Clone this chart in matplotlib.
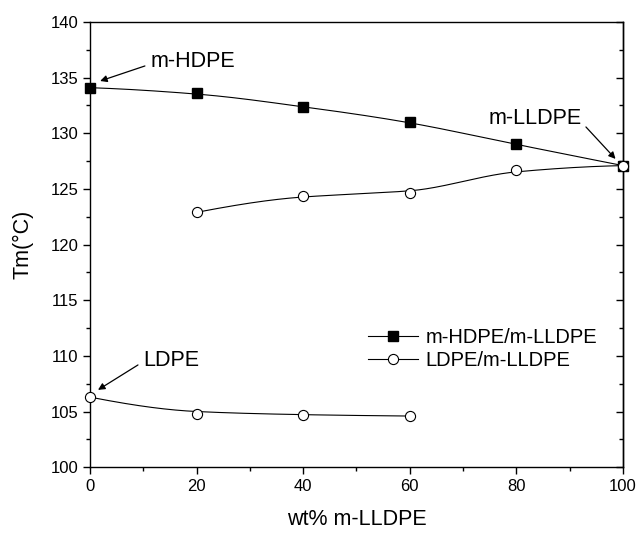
import numpy as np
import matplotlib
matplotlib.use("Agg")
import matplotlib.pyplot as plt
from matplotlib.ticker import MultipleLocator

plt.rcParams['font.family'] = ['Liberation Sans', 'DejaVu Sans']

hdpe_x = [0, 20, 40, 60, 80, 100]
hdpe_y = [134.1, 133.6, 132.4, 131.0, 129.0, 127.1]
ldpe_hi_x = [20, 40, 60, 80, 100]
ldpe_hi_y = [122.9, 124.4, 124.6, 126.7, 127.1]
ldpe_lo_x = [0, 20, 40, 60]
ldpe_lo_y = [106.3, 104.8, 104.7, 104.6]


def pchip(x, y, xs):
    x = np.asarray(x, float)
    y = np.asarray(y, float)
    h = np.diff(x)
    dl = np.diff(y) / h
    k = len(x)
    m = np.zeros(k)
    for i in range(1, k - 1):
        if dl[i - 1] * dl[i] <= 0:
            m[i] = 0
        else:
            w1 = 2 * h[i] + h[i - 1]
            w2 = h[i] + 2 * h[i - 1]
            m[i] = (w1 + w2) / (w1 / dl[i - 1] + w2 / dl[i])
    m[0] = ((2 * h[0] + h[1]) * dl[0] - h[0] * dl[1]) / (h[0] + h[1])
    if m[0] * dl[0] <= 0:
        m[0] = 0
    m[-1] = ((2 * h[-1] + h[-2]) * dl[-1] - h[-1] * dl[-2]) / (h[-1] + h[-2])
    if m[-1] * dl[-1] <= 0:
        m[-1] = 0
    ys = np.empty_like(xs)
    for j, xv in enumerate(xs):
        i = min(np.searchsorted(x, xv, side='right') - 1, k - 2)
        t = (xv - x[i]) / h[i]
        h00 = 2 * t ** 3 - 3 * t ** 2 + 1
        h10 = t ** 3 - 2 * t ** 2 + t
        h01 = -2 * t ** 3 + 3 * t ** 2
        h11 = t ** 3 - t ** 2
        ys[j] = h00 * y[i] + h10 * h[i] * m[i] + h01 * y[i + 1] + h11 * h[i] * m[i + 1]
    return ys


def bspline(x, y, n=400, deg=3):
    P = np.column_stack([x, y]).astype(float)
    k = len(P)
    d = min(deg, k - 1)
    inner = np.linspace(0, 1, k - d + 1)[1:-1]
    knots = np.concatenate([np.zeros(d + 1), inner, np.ones(d + 1)])
    out = []
    for t in np.linspace(0, 1, n):
        if t >= 1:
            out.append(P[-1])
            continue
        s = np.searchsorted(knots, t, side='right') - 1
        dpts = [P[j + s - d].copy() for j in range(d + 1)]
        for r in range(1, d + 1):
            for j in range(d, r - 1, -1):
                i = j + s - d
                a = (t - knots[i]) / (knots[i + d + 1 - r] - knots[i])
                dpts[j] = (1 - a) * dpts[j - 1] + a * dpts[j]
        out.append(dpts[d])
    out = np.array(out)
    return out[:, 0], out[:, 1]


def smooth(x, y):
    xs = np.linspace(x[0], x[-1], 300)
    bx, by = bspline(x, y)
    yb = np.interp(xs, bx, by)
    yp = pchip(x, y, xs)
    return xs, 0.5 * (yb + yp)


fig = plt.figure(figsize=(6.37, 5.34), dpi=100)
ax = fig.add_axes([0.1413, 0.125, 0.8367, 0.8338])

for xs_, ys_ in [(hdpe_x, hdpe_y), (ldpe_hi_x, ldpe_hi_y), (ldpe_lo_x, ldpe_lo_y)]:
    sx, sy = smooth(xs_, ys_)
    ax.plot(sx, sy, color='black', lw=0.8, zorder=2)

ax.plot(hdpe_x, hdpe_y, ls='none', marker='s', ms=6.5, mfc='black', mec='black', zorder=3, clip_on=False)
ax.plot(ldpe_hi_x, ldpe_hi_y, ls='none', marker='o', ms=7.3, mfc='white', mec='black', mew=0.8, zorder=3, clip_on=False)
ax.plot(ldpe_lo_x, ldpe_lo_y, ls='none', marker='o', ms=7.3, mfc='white', mec='black', mew=0.8, zorder=3, clip_on=False)

# legend proxies
ax.plot([], [], color='black', lw=0.8, marker='s', ms=6.5, mfc='black', label='m-HDPE/m-LLDPE')
ax.plot([], [], color='black', lw=0.8, marker='o', ms=7.3, mfc='white', mew=0.8, label='LDPE/m-LLDPE')
ax.legend(loc='center left', bbox_to_anchor=(0.5216, 0.2657), frameon=False, fontsize=14.5,
          handlelength=2.5, handletextpad=0.35, labelspacing=0.2, borderpad=0, borderaxespad=0)

ax.set_xlim(0, 100)
ax.set_ylim(100, 140)
ax.xaxis.set_major_locator(MultipleLocator(20))
ax.xaxis.set_minor_locator(MultipleLocator(10))
ax.yaxis.set_major_locator(MultipleLocator(5))
ax.yaxis.set_minor_locator(MultipleLocator(2.5))
ax.tick_params(axis='both', which='major', direction='out', length=5, width=1, labelsize=12)
ax.tick_params(axis='both', which='minor', direction='out', length=3, width=1)
for s in ax.spines.values():
    s.set_linewidth(1.0)

# right ticks inward
ax2 = ax.secondary_yaxis('right')
ax2.yaxis.set_major_locator(MultipleLocator(5))
ax2.yaxis.set_minor_locator(MultipleLocator(2.5))
ax2.tick_params(which='major', direction='in', length=5, width=1, labelright=False)
ax2.tick_params(which='minor', direction='in', length=3, width=1)
ax2.spines['right'].set_linewidth(1.0)

ax.set_xlabel('wt% m-LLDPE', fontsize=15.5, va='center')
ax.xaxis.set_label_coords(0.5, -0.117)
ax.set_ylabel('Tm(\u00b0C)', fontsize=15.5, va='center')
ax.yaxis.set_label_coords(-0.1257, 0.5)

arrow = dict(arrowstyle='-|>', color='black', lw=0.9, mutation_scale=10, shrinkA=0, shrinkB=0)
ax.annotate('', xy=(1.9, 134.7), xytext=(10.3, 136.05), arrowprops=arrow)
ax.text(11.4, 135.98, 'm-HDPE', fontsize=15.5, va='baseline', ha='left')
ax.annotate('', xy=(98.6, 127.7), xytext=(93.05, 130.57), arrowprops=arrow)
ax.text(74.7, 130.84, 'm-LLDPE', fontsize=15.5, va='baseline', ha='left')
ax.annotate('', xy=(1.5, 106.95), xytext=(9.0, 109.19), arrowprops=arrow)
ax.text(9.94, 109.1, 'LDPE', fontsize=15.5, va='baseline', ha='left')

fig.savefig('out.png', dpi=100)
